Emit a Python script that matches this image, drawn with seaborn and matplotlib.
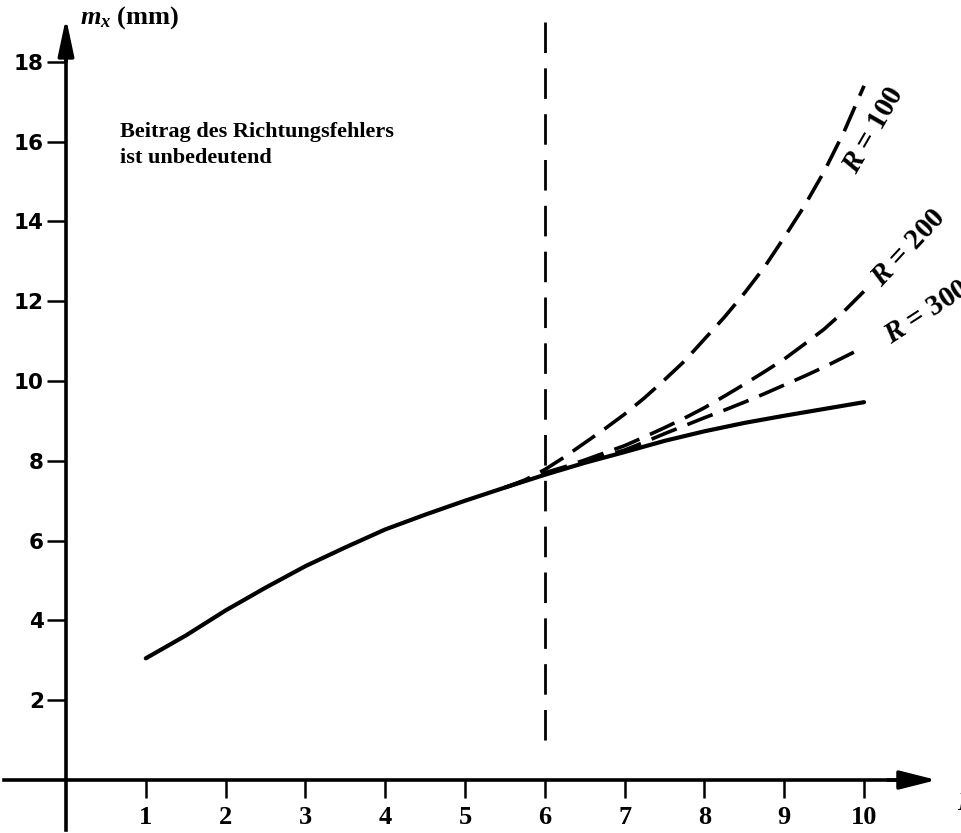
import numpy as np
import pandas as pd
import matplotlib
matplotlib.use("Agg")
import matplotlib.pyplot as plt
import seaborn as sns

# ---------------- data ----------------
x_solid = [1, 1.5, 2, 2.5, 3, 3.5, 4, 4.5, 5, 5.5, 6, 6.5, 7, 7.5, 8, 8.5, 9, 9.5, 10]
m_solid = [3.05, 3.62, 4.25, 4.82, 5.36, 5.83, 6.28, 6.65, 7.0, 7.33, 7.65, 7.95,
           8.22, 8.5, 8.74, 8.95, 9.13, 9.3, 9.47]

x_R = [5.5, 5.75, 6, 6.25, 6.5, 6.75, 7, 7.25, 7.5, 7.75, 8, 8.25, 8.5, 8.75,
       9, 9.25, 9.5, 9.75, 10]
m_R100 = [7.33, 7.52, 7.78, 8.1, 8.45, 8.8, 9.17, 9.58, 10.03, 10.5, 11.05, 11.6,
          12.2, 12.85, 13.6, 14.38, 15.25, 16.25, 17.4]
m_R200 = [7.33, 7.5, 7.7, 7.85, 8.02, 8.2, 8.38, 8.6, 8.83, 9.07, 9.33, 9.62,
          9.92, 10.23, 10.55, 10.92, 11.3, 11.75, 12.25]
m_R300 = [7.33, 7.5, 7.67, 7.82, 7.97, 8.12, 8.27, 8.47, 8.68, 8.88, 9.08, 9.27,
          9.47, 9.68, 9.9, 10.12, 10.35, 10.6, 10.85]

x_ticks = [1, 2, 3, 4, 5, 6, 7, 8, 9, 10]
y_ticks = [2, 4, 6, 8, 10, 12, 14, 16, 18]
divider_x = 6
r_labels = ["100", "200", "300"]
note = "Beitrag des Richtungsfehlers\nist unbedeutend"
y_label = r"$m_x$ (mm)"

# ---------------- style ----------------
sns.set_theme(style="white")
plt.rcParams["font.family"] = ["Liberation Serif", "DejaVu Serif"]
plt.rcParams["text.color"] = "black"
plt.rcParams["xtick.color"] = "black"
plt.rcParams["ytick.color"] = "black"
plt.rcParams["mathtext.fontset"] = "custom"
plt.rcParams["mathtext.it"] = "Liberation Serif:bold:italic"
plt.rcParams["mathtext.rm"] = "Liberation Serif:bold"
plt.rcParams["mathtext.bf"] = "Liberation Serif:bold"

fig = plt.figure(figsize=(9.61, 8.33), dpi=100)
ax = fig.add_axes([0, 0, 1, 1])
ax.set_facecolor("white")
fig.patch.set_facecolor("white")
ax.set_xlim(-0.827, 11.215)
ax.set_ylim(-1.328, 19.55)

# axes through origin
for s in ["top", "right"]:
    ax.spines[s].set_visible(False)
ax.spines["left"].set_position(("data", 0))
ax.spines["bottom"].set_position(("data", 0))
ax.spines["left"].set_bounds(-1.25, 18.6)
ax.spines["bottom"].set_bounds(-0.78, 10.6)
for s in ["left", "bottom"]:
    ax.spines[s].set_linewidth(2.6)
    ax.spines[s].set_color("black")

ax.annotate("", xy=(0, 19.1), xytext=(0, 18.0),
            arrowprops=dict(arrowstyle="-|>,head_length=1.5,head_width=0.32",
                            mutation_scale=15, lw=2.6, color="black",
                            shrinkA=0, shrinkB=0))
ax.annotate("", xy=(10.91, 0), xytext=(10.3, 0),
            arrowprops=dict(arrowstyle="-|>,head_length=1.5,head_width=0.38",
                            mutation_scale=15, lw=2.6, color="black",
                            shrinkA=0, shrinkB=0))

# ticks
ax.set_xticks(x_ticks)
ax.set_xticklabels([str(v) for v in x_ticks], fontfamily="Liberation Serif",
                   fontweight="bold", fontsize=19, color="black")
ax.set_yticks(y_ticks)
ax.set_yticklabels([str(v) for v in y_ticks], fontfamily="DejaVu Sans",
                   fontweight="bold", fontsize=15.5, color="black")
ax.tick_params(axis="x", direction="out", length=13, width=1.8, pad=6,
               bottom=True, colors="black")
ax.tick_params(axis="y", direction="out", length=14, width=1.8, pad=2,
               left=True, colors="black")
ax.grid(False)

# vertical divider
ax.plot([divider_x, divider_x], [19.0, 0.7], color="black", lw=2.0,
        linestyle=(0, (11, 5.5)))

# curves
sns.lineplot(x=x_solid, y=m_solid, ax=ax, color="black", lw=3.0,
             estimator=None, sort=False)
for m in (m_R100, m_R200, m_R300):
    sns.lineplot(x=x_R, y=m, ax=ax, color="black", lw=2.6, estimator=None,
                 sort=False, linestyle=(0, (7.5, 3.2)))

# labels
ax.text(0.68, 16.5, note, fontsize=16, fontweight="bold", color="black",
        fontfamily="Liberation Serif", va="top", ha="left", linespacing=1.45)
ax.text(0.18, 19.45, y_label, fontsize=19, fontweight="bold", color="black",
        fontfamily="Liberation Serif", va="top", ha="left")

ax.text(10.12, 16.3, r"$R$ = " + r_labels[0], rotation=60, fontsize=21,
        fontweight="bold", ha="center", va="center", rotation_mode="anchor",
        color="black")
ax.text(10.56, 13.33, r"$R$ = " + r_labels[1], rotation=47, fontsize=21,
        fontweight="bold", ha="center", va="center", rotation_mode="anchor",
        color="black")
ax.text(10.78, 11.72, r"$R$ = " + r_labels[2], rotation=33, fontsize=21,
        fontweight="bold", ha="center", va="center", rotation_mode="anchor",
        color="black")

ax.text(11.17, -0.6, r"$L$", fontsize=18, ha="left", va="center", color="black")

fig.savefig("out.png", dpi=100, facecolor="white")
